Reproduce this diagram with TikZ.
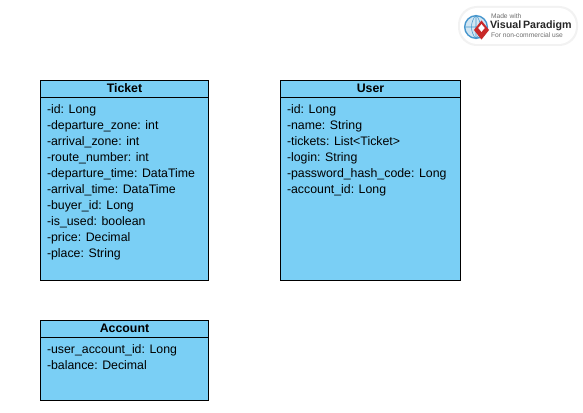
\documentclass[tikz,border=0pt]{standalone}
\usepackage{fontspec}
\usetikzlibrary{shapes.geometric}
\setmainfont{Liberation Sans}
\definecolor{classfill}{RGB}{122,207,245}
\definecolor{logogray}{RGB}{110,110,110}
\definecolor{logoblue}{RGB}{70,150,205}
\definecolor{logored}{RGB}{200,40,40}
\tikzset{
  classbox/.style={draw=black,fill=classfill,line width=0.75pt,anchor=north west,inner sep=0,outer sep=0},
  classhead/.style={classbox,minimum height=12.75pt,text height=6.5pt,text depth=1.5pt,font=\fontsize{9.25}{12}\selectfont\bfseries,align=center},
  attrs/.style={anchor=north west,inner sep=0,outer sep=0,align=left,font=\fontsize{9.25}{12}\selectfont},
  logotext/.style={anchor=west,inner sep=0,outer sep=0,text=logogray}
}
\begin{document}
\begin{tikzpicture}[x=0.75pt,y=-0.75pt]
\useasboundingbox (0,0) rectangle (583,413);

% logo
\fill[black!5,rounded corners=14pt] (458,6) rectangle (578,46);
\fill[white,rounded corners=13pt] (460,8) rectangle (576,44);
\node[circle,draw=logoblue,fill=logoblue!25,line width=1pt,minimum size=17pt,inner sep=0] (globe) at (476,27) {};
\draw[logoblue,line width=0.4pt] (globe.north) -- (globe.south) (globe.west) -- (globe.east)
  (globe.north) to[bend right=40] (globe.south) (globe.north) to[bend left=40] (globe.south);
\node[diamond,fill=logored,minimum width=11.5pt,minimum height=14.5pt,inner sep=0] (mark) at (481.5,30) {};
\node[diamond,fill=white,minimum width=5pt,minimum height=6pt,inner sep=0] (markhole) at (481.5,28) {};
\node[logotext,font=\fontsize{5}{6}\selectfont] (madewith) at (491,16.5) {Made with};
\node[logotext,text=black!85,font=\fontsize{8}{10}\selectfont\bfseries] (vpname) at (490,26) {Visual\,Paradigm};
\node[logotext,font=\fontsize{5}{6}\selectfont] (noncomm) at (491,35.5) {For non-commercial use};

% Ticket
\node[classbox,minimum width=126pt,minimum height=150pt] (ticket) at (40.5,80.5) {};
\node[classhead,minimum width=126pt] (tickethead) at (40.5,80.5) {Ticket};
\node[attrs] (ticketattrs) at (47,104.5) {-id: Long\\-departure\_zone: int\\-arrival\_zone: int\\-route\_number: int\\-departure\_time: DataTime\\-arrival\_time: DataTime\\-buyer\_id: Long\\-is\_used: boolean\\-price: Decimal\\-place: String};

% User
\node[classbox,minimum width=135pt,minimum height=150pt] (user) at (280.5,80.5) {};
\node[classhead,minimum width=135pt] (userhead) at (280.5,80.5) {User};
\node[attrs] (userattrs) at (287,104.5) {-id: Long\\-name: String\\-tickets: List<Ticket>\\-login: String\\-password\_hash\_code: Long\\-account\_id: Long};

% Account
\node[classbox,minimum width=126pt,minimum height=60pt] (account) at (40.5,320.5) {};
\node[classhead,minimum width=126pt] (accounthead) at (40.5,320.5) {Account};
\node[attrs] (accountattrs) at (47,344.5) {-user\_account\_id: Long\\-balance: Decimal};

\end{tikzpicture}
\end{document}
